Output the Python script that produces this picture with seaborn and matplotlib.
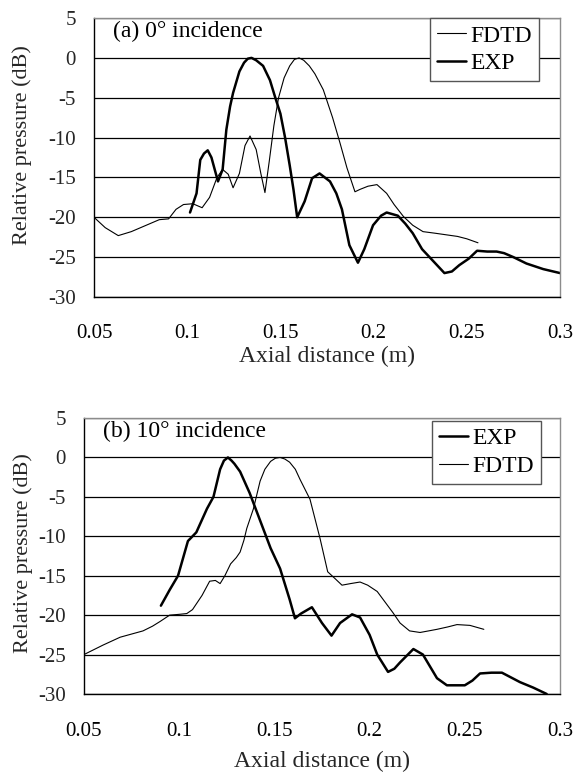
import matplotlib
matplotlib.use("Agg")
import matplotlib.pyplot as plt
import seaborn as sns
import pandas as pd

# Panel (a): 0 deg incidence
a_fdtd_x = [0.050, 0.056, 0.063, 0.070, 0.078, 0.085, 0.090, 0.094, 0.098, 0.103,
            0.108, 0.112, 0.116, 0.119, 0.122, 0.1246, 0.128, 0.131, 0.1337, 0.137,
            0.1395, 0.1417, 0.144, 0.1465, 0.149, 0.152, 0.155, 0.1575, 0.160, 0.1625,
            0.1655, 0.1685, 0.173, 0.178, 0.182, 0.1857, 0.190, 0.1927, 0.197, 0.2018,
            0.207, 0.211, 0.216, 0.221, 0.2265, 0.233, 0.239, 0.245, 0.250, 0.256]
a_fdtd_y = [-20.0, -21.3, -22.3, -21.8, -21.0, -20.3, -20.2, -19.0, -18.4, -18.3,
            -18.8, -17.5, -15.0, -14.0, -14.6, -16.3, -14.5, -11.0, -9.8, -11.5,
            -14.5, -16.9, -13.0, -8.5, -5.0, -2.5, -1.0, -0.2, 0.0, -0.3,
            -1.0, -2.0, -4.0, -7.5, -10.7, -13.8, -16.8, -16.5, -16.1, -15.9,
            -17.0, -18.4, -19.9, -21.0, -21.8, -22.0, -22.2, -22.4, -22.7, -23.2]

a_exp_x = [0.1015, 0.105, 0.107, 0.109, 0.111, 0.113, 0.1165, 0.119, 0.121, 0.123,
           0.1246, 0.128, 0.1305, 0.1325, 0.1345, 0.137, 0.1407, 0.1444, 0.147, 0.150,
           0.1525, 0.155, 0.157, 0.159, 0.163, 0.167, 0.171, 0.1766, 0.180, 0.183,
           0.187, 0.1916, 0.195, 0.1997, 0.204, 0.207, 0.213, 0.217, 0.221, 0.226,
           0.232, 0.238, 0.242, 0.246, 0.251, 0.2555, 0.261, 0.266, 0.270, 0.275,
           0.282, 0.291, 0.300]
a_exp_y = [-19.4, -17.0, -12.8, -12.0, -11.6, -12.5, -15.5, -14.0, -9.0, -6.1,
           -4.4, -1.7, -0.6, -0.1, 0.0, -0.3, -1.0, -2.8, -4.8, -7.0,
           -10.0, -13.5, -16.5, -20.0, -18.0, -15.1, -14.5, -15.5, -17.0, -19.0,
           -23.5, -25.7, -24.0, -21.0, -19.8, -19.4, -19.8, -20.8, -22.0, -24.0,
           -25.5, -27.0, -26.8, -26.0, -25.2, -24.2, -24.3, -24.3, -24.5, -25.0,
           -25.8, -26.5, -27.0]

# Panel (b): 10 deg incidence
b_fdtd_x = [0.050, 0.060, 0.069, 0.075, 0.081, 0.086, 0.090, 0.095, 0.100, 0.104,
            0.107, 0.112, 0.116, 0.119, 0.1215, 0.124, 0.127, 0.130, 0.132, 0.134,
            0.1355, 0.139, 0.1425, 0.145, 0.148, 0.1505, 0.153, 0.1555, 0.158, 0.161,
            0.1635, 0.1687, 0.174, 0.178, 0.182, 0.1855, 0.190, 0.195, 0.199, 0.204,
            0.208, 0.2123, 0.216, 0.221, 0.2265, 0.231, 0.2354, 0.241, 0.2459, 0.2527,
            0.260]
b_fdtd_y = [-25.0, -23.8, -22.8, -22.4, -22.0, -21.4, -20.8, -20.0, -19.9, -19.8,
            -19.3, -17.5, -15.7, -15.6, -16.0, -15.0, -13.5, -12.7, -12.0, -10.5,
            -9.0, -6.5, -3.0, -1.5, -0.5, -0.1, 0.0, -0.2, -0.6, -1.5,
            -2.8, -5.3, -10.3, -14.5, -15.4, -16.2, -16.0, -15.8, -16.2, -17.0,
            -18.3, -19.7, -21.0, -22.0, -22.2, -22.0, -21.8, -21.5, -21.2, -21.3,
            -21.8]

b_exp_x = [0.0904, 0.095, 0.0994, 0.1046, 0.109, 0.1146, 0.118, 0.1215, 0.1235, 0.1256,
           0.1275, 0.129, 0.132, 0.137, 0.1425, 0.148, 0.153, 0.158, 0.1608, 0.164,
           0.1697, 0.175, 0.180, 0.1845, 0.1908, 0.195, 0.200, 0.204, 0.2097, 0.213,
           0.216, 0.223, 0.228, 0.2354, 0.2406, 0.250, 0.254, 0.258, 0.264, 0.2695,
           0.279, 0.286, 0.293]
b_exp_y = [-18.8, -16.8, -15.0, -10.6, -9.5, -6.5, -5.0, -1.5, -0.4, 0.0,
           -0.4, -0.8, -1.8, -4.5, -8.0, -11.5, -14.1, -18.0, -20.4, -19.8,
           -19.0, -21.0, -22.6, -21.0, -19.9, -20.3, -22.5, -25.0, -27.2, -26.8,
           -26.0, -24.3, -25.0, -28.0, -28.9, -28.9, -28.3, -27.4, -27.3, -27.3,
           -28.5, -29.2, -30.0]

x_ticks = [0.05, 0.1, 0.15, 0.2, 0.25, 0.3]
x_ticklabels = ["0.05", "0.1", "0.15", "0.2", "0.25", "0.3"]
y_ticks = [5, 0, -5, -10, -15, -20, -25, -30]

sns.set_style("white")
plt.rcParams.update({
    "font.family": ["Liberation Serif", "DejaVu Serif"],
    "axes.unicode_minus": False,
    "text.color": "black",
})


def draw_panel(ax, series, title, legend_anchor, xpad, xlabelpad, ylabel_xy):
    for name, xs, ys, lw in series:
        df = pd.DataFrame({"x": xs, "y": ys})
        sns.lineplot(data=df, x="x", y="y", ax=ax, color="black", linewidth=lw,
                     label=name, sort=False, estimator=None)
    ax.set_xlim(0.05, 0.3)
    ax.set_ylim(-30, 5)
    ax.set_xticks(x_ticks)
    ax.set_xticklabels(x_ticklabels)
    ax.set_yticks(y_ticks)
    ax.set_yticklabels([str(v) for v in y_ticks])
    ax.tick_params(axis="x", direction="in", length=7, width=1, labelsize=15,
                   pad=xpad, colors="black")
    ax.tick_params(axis="y", length=0, labelsize=15, pad=13)
    ax.yaxis.grid(True, color="black", linewidth=0.9)
    ax.xaxis.grid(False)
    for s in ["left", "bottom"]:
        ax.spines[s].set_color("black")
        ax.spines[s].set_linewidth(1.0)
    for s in ["top", "right"]:
        ax.spines[s].set_color("#8c8c8c")
        ax.spines[s].set_linewidth(1.0)
    ax.set_xlabel("Axial distance (m)", fontsize=17, labelpad=xlabelpad)
    ax.set_ylabel("Relative pressure (dB)", fontsize=16)
    ax.yaxis.set_label_coords(*ylabel_xy)
    ax.text(0.04, 0.953, title, transform=ax.transAxes, fontsize=17,
            ha="left", va="center")
    leg = ax.legend(loc="upper right", bbox_to_anchor=legend_anchor, fontsize=17,
                    frameon=True, fancybox=False, framealpha=1,
                    edgecolor="#555555", borderpad=0.3, labelspacing=0.25,
                    handlelength=1.2, handletextpad=0.2, borderaxespad=0)
    leg.get_frame().set_linewidth(1.0)


fig = plt.figure(figsize=(5.74, 7.74), dpi=100)
fig.patch.set_facecolor("white")
ax1 = fig.add_axes([0.1638, 0.6163, 0.8118, 0.3604])
ax2 = fig.add_axes([0.1463, 0.1034, 0.8293, 0.3565])

draw_panel(ax1,
           [("FDTD", a_fdtd_x, a_fdtd_y, 0.8), ("EXP", a_exp_x, a_exp_y, 1.8)],
           "(a) 0° incidence", (0.955, 1.0), 19.5, 2, (-0.133, 0.545))
draw_panel(ax2,
           [("EXP", b_exp_x, b_exp_y, 1.8), ("FDTD", b_fdtd_x, b_fdtd_y, 0.8)],
           "(b) 10° incidence", (0.96, 0.99), 20.5, 7, (-0.107, 0.511))

fig.savefig("out.png", dpi=100, facecolor="white")
